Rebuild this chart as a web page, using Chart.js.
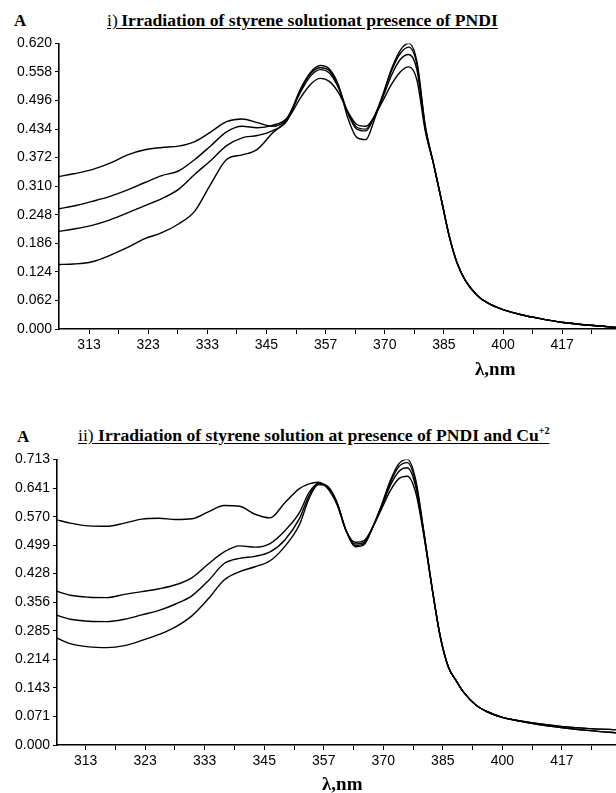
<!DOCTYPE html>
<html>
<head>
<meta charset="utf-8">
<script src="https://cdn.jsdelivr.net/npm/chart.js@4.4.1/dist/chart.umd.min.js"></script>
<style>
body{margin:0;background:#fff}
#wrap{position:relative;width:616px;height:793px;overflow:hidden;background:#fff}
.lbl{position:absolute;font-family:"Liberation Serif",serif;font-weight:bold;color:#000;line-height:1;white-space:nowrap}
.ttl{font-size:17.6px}
.ttl u{text-underline-offset:2px}
.ttl .n{font-weight:normal}
.ttl sup{font-size:10px;vertical-align:7px;line-height:0}
.axA{font-size:17px}
.axX{font-size:19px}
canvas{position:absolute;left:0}
</style>
</head>
<body>
<div id="wrap">
<div class="lbl axA" style="left:14px;top:12px">A</div>
<div class="lbl ttl" style="left:107px;top:12px"><u><span class="n">i)</span>&#8201;Irradiation of styrene solutionat presence of PNDI</u></div>
<canvas id="c1" width="616" height="328" style="top:32px"></canvas>
<div class="lbl axX" style="left:475px;top:359px">λ,nm</div>

<div class="lbl axA" style="left:17px;top:428px">A</div>
<div class="lbl ttl" style="left:78px;top:427px"><u><span class="n">ii)</span> Irradiation of styrene solution at presence of PNDI and Cu<sup>+2</sup></u></div>
<canvas id="c2" width="616" height="328" style="top:448px"></canvas>
<div class="lbl axX" style="left:322px;top:774px">λ,nm</div>
</div>
<script>
/* DATA */
const wavelengthNm=[307.6,310,313,316,319,322,325,328,331,334,337,340,343,346,349,352,354,356,358,360,362,364,366,368,370,372,374,376,378,380,382,384,386,388,390,393,396,400,405,410,417,425,434]

// panel i) styrene + PNDI
const p1A=[.331,.337,.346,.360,.378,.389,.394,.397,.407,.428,.450,.456,.448,.440,.455,.505,.532,.544,.537,.512,.472,.444,.440,.462,.497,.532,.558,.569,.540,.430,.360,.280,.200,.142,.106,.074,.056,.042,.031,.023,.014,.008,.003]
const p1B=[.261,.267,.277,.288,.302,.318,.333,.343,.368,.398,.428,.440,.437,.442,.458,.518,.550,.563,.555,.522,.470,.438,.434,.462,.505,.552,.585,.596,.562,.436,.360,.280,.200,.142,.106,.074,.056,.042,.031,.023,.014,.008,.003]
const p1C=[.212,.217,.225,.237,.252,.268,.283,.303,.336,.366,.398,.415,.420,.430,.452,.522,.555,.567,.560,.525,.468,.434,.430,.462,.510,.562,.598,.612,.574,.440,.360,.280,.200,.142,.106,.074,.056,.042,.031,.023,.014,.008,.003]
const p1D=[.140,.141,.146,.160,.177,.196,.209,.228,.256,.315,.368,.378,.390,.425,.455,.525,.558,.572,.564,.528,.458,.416,.411,.455,.510,.566,.605,.620,.580,.442,.360,.280,.200,.142,.106,.074,.056,.042,.031,.023,.014,.008,.003]

// panel ii) styrene + PNDI + Cu2+
const p2A=[.563,.554,.547,.546,.554,.564,.566,.563,.565,.582,.598,.596,.576,.567,.605,.640,.652,.656,.640,.600,.535,.506,.510,.545,.590,.635,.665,.671,.630,.520,.390,.270,.195,.160,.130,.100,.083,.069,.060,.053,.046,.041,.038]
const p2B=[.385,.374,.369,.368,.376,.383,.390,.400,.418,.452,.482,.497,.494,.503,.535,.580,.630,.653,.645,.605,.535,.502,.506,.545,.595,.648,.683,.692,.645,.525,.390,.270,.195,.160,.130,.100,.083,.069,.060,.053,.046,.041,.038]
const p2C=[.325,.314,.309,.308,.314,.325,.336,.352,.373,.410,.453,.466,.471,.482,.512,.565,.622,.652,.645,.605,.535,.498,.503,.545,.598,.655,.695,.705,.655,.528,.390,.270,.195,.160,.130,.100,.083,.069,.059,.051,.043,.036,.030]
const p2D=[.269,.253,.245,.243,.248,.261,.276,.295,.323,.365,.412,.433,.445,.460,.496,.550,.615,.650,.645,.605,.535,.495,.500,.545,.600,.660,.702,.713,.662,.530,.390,.270,.195,.160,.130,.100,.083,.069,.059,.051,.043,.036,.030]

// tick labels
const xTickLabels=['313','323','333','345','357','370','385','400','417']
const p1YTicks=['0.000','0.062','0.124','0.186','0.248','0.310','0.372','0.434','0.496','0.558','0.620']
const p2YTicks=['0.000','0.071','0.143','0.214','0.285','0.356','0.428','0.499','0.570','0.641','0.713']

/* CHARTS */
// x axis is linear in wavenumber (cm-1), one label every 1000 cm-1
const toWn=nm=>1e7/nm

function makeChart(id,series,yTicks,xMax,yW){
let yVals=yTicks.map(Number)
let datasets=series.map(s=>({
data:s.map((v,i)=>({x:toWn(wavelengthNm[i]),y:v})),
borderColor:'#000',borderWidth:1.4,pointRadius:0,
cubicInterpolationMode:'monotone',fill:false
}))
return new Chart(document.getElementById(id),{
type:'line',
data:{datasets},
options:{
responsive:false,animation:false,
layout:{padding:{top:10,right:0,left:0,bottom:0}},
plugins:{legend:{display:false},tooltip:{enabled:false}},
scales:{
x:{type:'linear',reverse:true,min:23090,max:xMax,
afterBuildTicks:sc=>{
let t=[]
for(let v=32000;v>=23500;v-=500)t.push({value:v})
sc.ticks=t
},
afterFit:sc=>{sc.height=31},
ticks:{autoSkip:false,maxRotation:0,color:'#000',padding:3,
font:{family:'"Liberation Sans", Arial',size:14},
callback:v=>v%1000===0?xTickLabels[(32000-v)/1000]:''},
grid:{drawOnChartArea:false,drawTicks:true,tickLength:5,color:'#000',lineWidth:1},
border:{display:true,color:'#000',width:1.6}
},
y:{min:0,max:yVals[yVals.length-1],
afterBuildTicks:sc=>{sc.ticks=yVals.map(v=>({value:v}))},
afterFit:sc=>{sc.width=yW},
ticks:{autoSkip:false,color:'#000',padding:3,
font:{family:'"Liberation Sans", Arial',size:14},
callback:(v,i)=>yTicks[i]},
grid:{drawOnChartArea:false,drawTicks:true,tickLength:4,color:'#000',lineWidth:1},
border:{display:true,color:'#000',width:1.6}
}
}
}
})
}

makeChart('c1',[p1A,p1B,p1C,p1D],p1YTicks,32508,59)
makeChart('c2',[p2A,p2B,p2C,p2D],p2YTicks,32482,57)
</script>
</body>
</html>
